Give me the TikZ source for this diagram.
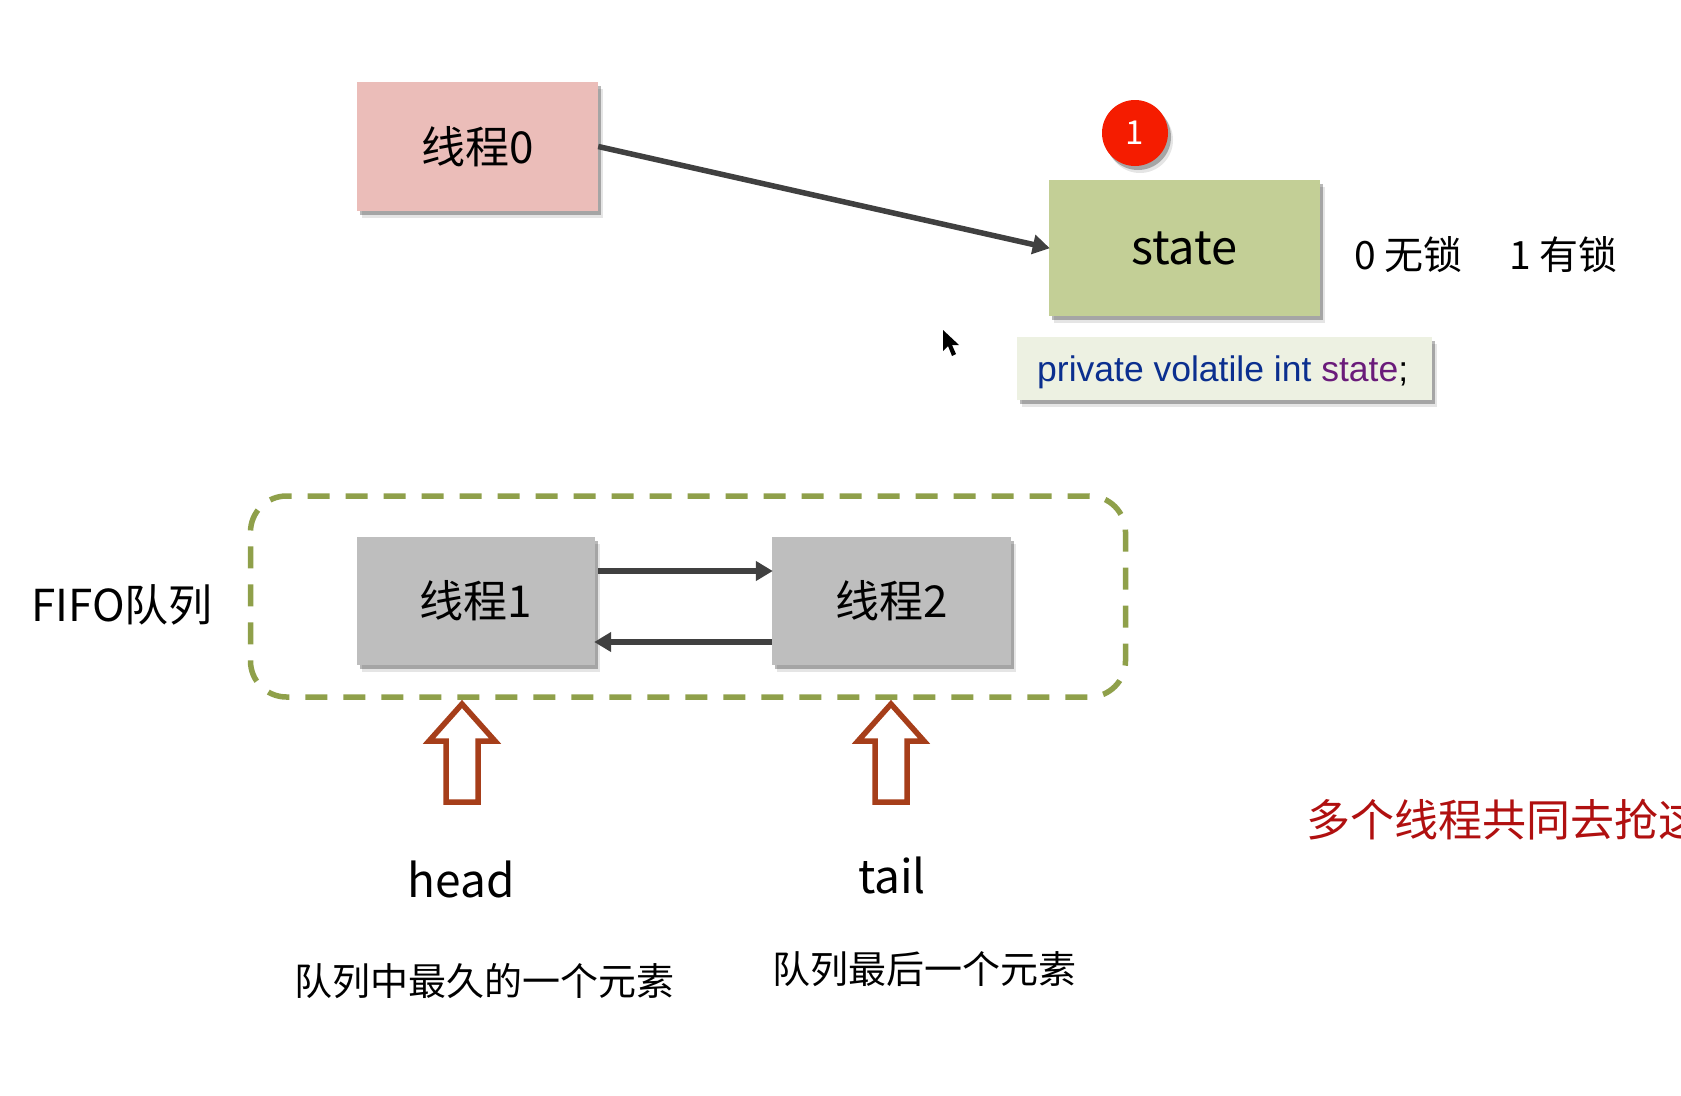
\documentclass[tikz,border=0pt]{standalone}
\usepackage{fontspec}
\setmainfont{Noto Sans CJK SC}
\newfontfamily\codefont{Liberation Sans}
\usetikzlibrary{arrows.meta,shadows,positioning,calc}
\definecolor{pinkbox}{HTML}{EBBDB9}
\definecolor{greenbox}{HTML}{C3CF96}
\definecolor{graybox}{HTML}{BEBEBE}
\definecolor{dashgreen}{HTML}{8FA04A}
\definecolor{tipbox}{HTML}{EDF1E2}
\definecolor{rust}{HTML}{A63E1A}
\definecolor{redtext}{HTML}{B01010}
\definecolor{badge}{HTML}{F51C00}
\definecolor{codeblue}{HTML}{0B2F8F}
\definecolor{codepurple}{HTML}{6A1B7A}
\definecolor{linkgray}{HTML}{404040}
\tikzset{
  softshadow/.style={
    drop shadow={shadow xshift=5pt,shadow yshift=-7pt,fill=black,opacity=.10},
    drop shadow={shadow xshift=3pt,shadow yshift=-4pt,fill=black,opacity=.28}},
  thread/.style={rectangle,minimum width=#1,minimum height=128pt,inner sep=0pt,softshadow,font=\fontsize{44}{48}\selectfont},
  link/.style={draw=linkgray,line width=5.5pt,-{Triangle[length=17pt,width=19pt]},shorten >=-1pt},
  label/.style={inner sep=0pt,font=\fontsize{#1}{#1}\selectfont},
  uparrow/.style={draw=rust,line width=5.5pt,fill=white,line join=miter}
}
\newcommand{\blockarrow}[1]{%
  \draw[uparrow,shift={(#1,0)}] (0,704) -- (33,741) -- (16,741) -- (16,802) -- (-16,802) -- (-16,741) -- (-33,741) -- cycle;}
\begin{document}
\begin{tikzpicture}[x=1pt,y=-1pt]
\useasboundingbox[fill=white] (0,0) rectangle (1681,1095);
% top part
\node[thread=241pt,minimum height=129pt,fill=pinkbox] (t0) at (477.5,146.5) {线程0};
\node[thread=271pt,minimum height=136pt,fill=greenbox,text height=34pt,font=\fontsize{47}{50}\selectfont] (state) at (1184.5,248) {state};
\draw[link] (t0.east) -- (state.west);
\node[circle,fill=badge,minimum size=66pt,inner sep=0pt,text=white,font=\fontsize{33}{35}\selectfont,softshadow] (badge1) at (1135,133) {1};
\node[label=39,anchor=west] (lock0) at (1354,255) {0 无锁};
\node[label=39,anchor=west] (lock1) at (1509,255) {1 有锁};
\node[rectangle,fill=tipbox,minimum width=415pt,minimum height=63pt,inner sep=0pt,softshadow] (tip) at (1224.5,368.5) {};
\node[inner sep=0pt,anchor=west,font=\codefont\fontsize{35.5}{38}\selectfont] (code) at (1037,372) {\textcolor{codeblue}{private volatile int} \textcolor{codepurple}{state};};
% cursor
\fill[black] (943,330) -- (943,351) -- (948,346) -- (952,356) -- (956,354) -- (952,345) -- (959,345) -- cycle;
% queue
\node[rounded corners=36pt,draw=dashgreen,line width=5.5pt,dash pattern=on 22pt off 16pt,minimum width=875pt,minimum height=201pt,inner sep=0pt] (fifo) at (688,596.5) {};
\node[thread=238pt,fill=graybox] (t1) at (476,601) {线程1};
\node[thread=239pt,fill=graybox] (t2) at (891.5,601) {线程2};
\draw[link,shorten <=3pt] ([yshift=30pt]t1.east) -- ([yshift=30pt]t2.west);
\draw[link] ([yshift=-41pt]t2.west) -- ([yshift=-41pt]t1.east);
\node[label=44,anchor=west] (fifolabel) at (31,605) {FIFO队列};
\blockarrow{462}
\blockarrow{891}
\node[label=46] (head) at (461,879) {head};
\node[label=46] (tail) at (892,875) {tail};
\node[label=38] (headnote) at (484,981) {队列中最久的一个元素};
\node[label=38] (tailnote) at (924,969) {队列最后一个元素};
\node[label=44,anchor=west,text=redtext] (note) at (1306,820) {多个线程共同去抢这};
\end{tikzpicture}
\end{document}
